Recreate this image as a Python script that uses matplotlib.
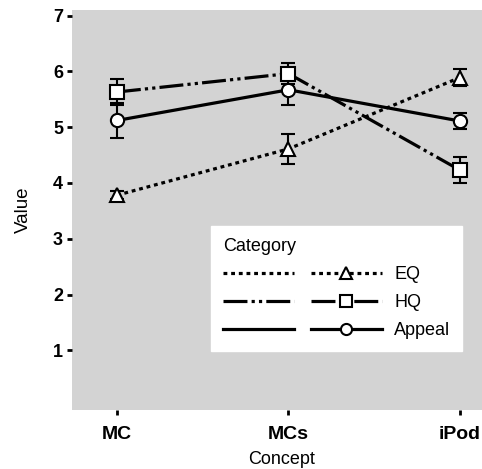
import matplotlib.pyplot as plt
from matplotlib.legend_handler import HandlerTuple
from matplotlib.lines import Line2D

concepts = ["MC", "MCs", "iPod"]
categories = ["EQ", "HQ", "Appeal"]

eq_mean = [3.78, 4.61, 5.89]
eq_err = [0.07, 0.27, 0.15]
hq_mean = [5.63, 5.96, 4.23]
hq_err = [0.24, 0.19, 0.23]
appeal_mean = [5.12, 5.67, 5.11]
appeal_err = [0.31, 0.27, 0.15]

plt.rcParams["font.family"] = ["Liberation Sans", "DejaVu Sans"]

styles = {
    "EQ": dict(ls=(0, (1.2, 1.2)), marker="^"),
    "HQ": dict(ls=(0, (7.5, 1.3, 1, 1.3, 1, 1.3)), marker="s"),
    "Appeal": dict(ls="-", marker="o"),
}
series = {
    "EQ": (eq_mean, eq_err),
    "HQ": (hq_mean, hq_err),
    "Appeal": (appeal_mean, appeal_err),
}

fig = plt.figure(figsize=(4.82, 4.69), dpi=100)
ax = fig.add_axes([72 / 482, 1 - 410 / 469, 420 / 482, 400 / 469])
ax.set_facecolor("#d3d3d3")

x = range(len(concepts))
handles = []
for cat in categories:
    mean, err = series[cat]
    st = styles[cat]
    ax.errorbar(x, mean, yerr=err, color="black", ls="none", elinewidth=1.5,
                capsize=5, capthick=1.5, zorder=2)
    ax.plot(x, mean, color="black", lw=2.3, ls=st["ls"], zorder=3)
    ax.plot(x, mean, color="black", ls="none", marker=st["marker"],
            markersize=9.5, markerfacecolor="white", markeredgewidth=1.5, zorder=4)
    plain = Line2D([], [], color="black", lw=2.3, ls=st["ls"])
    marked = Line2D([], [], color="black", lw=2.3, ls=st["ls"], marker=st["marker"],
                    markersize=8, markerfacecolor="white", markeredgewidth=1.5)
    handles.append((plain, marked))

# iPod sits close to the right edge in the original
ax.set_xlim(-0.262, 2.187)
ax.set_ylim(-0.07, 7.1)
ax.set_xticks(list(x))
ax.set_xticklabels(concepts, fontsize=14, fontweight="bold")
ax.set_yticks([1, 2, 3, 4, 5, 6, 7])
ax.set_yticklabels([str(v) for v in range(1, 8)], fontsize=13, fontweight="bold")
ax.tick_params(axis="both", length=3.5, width=2, color="black")
ax.tick_params(axis="x", pad=8)
ax.tick_params(axis="y", pad=3)
for sp in ax.spines.values():
    sp.set_visible(False)

ax.set_xlabel("Concept", fontsize=13, labelpad=6)
ax.set_ylabel("Value", fontsize=13.5, labelpad=15)

leg = ax.legend(handles, categories, title="Category", loc="upper left",
                bbox_to_anchor=(211 / 482, 1 - 226 / 469), bbox_transform=fig.transFigure,
                handler_map={tuple: HandlerTuple(ndivide=None, pad=0.95)},
                handlelength=8.8, fontsize=13, title_fontsize=13,
                frameon=True, fancybox=False, framealpha=1, edgecolor="white",
                borderpad=0.65, borderaxespad=0, labelspacing=0.62, handletextpad=0.7)
leg._legend_box.align = "left"

fig.savefig("out.png", dpi=100)
